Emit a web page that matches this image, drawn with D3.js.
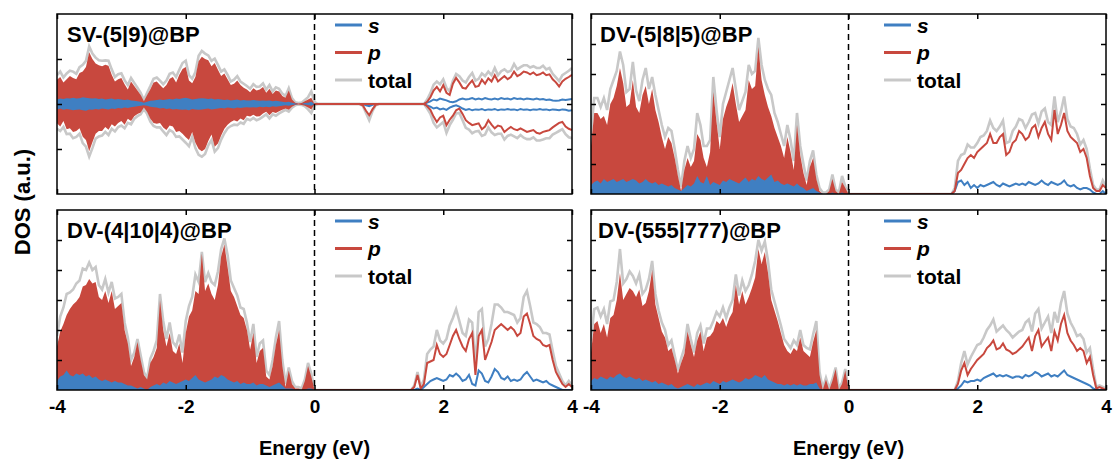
<!DOCTYPE html>
<html>
<head>
<meta charset="utf-8">
<script src="https://cdn.jsdelivr.net/npm/d3@7"></script>
<style>
  body { margin: 0; background: #fff; }
  svg text { font-family: "Liberation Sans", Arial, sans-serif; font-weight: bold; fill: #000; }
</style>
</head>
<body>
<svg id="drawing_region"></svg>
<script>
const energy = d3.range(161).map(i => +(-4 + i * 0.05).toFixed(2));

const xTickValues = [-4, -2, 0, 2, 4];
const panelTitles = ['SV-(5|9)@BP', 'DV-(5|8|5)@BP', 'DV-(4|10|4)@BP', 'DV-(555|777)@BP'];
const legendLabels = ['s', 'p', 'total'];

// SV-(5|9)@BP, spin up (positive) and spin down (negative)
const sv59_s_up = [
  0.1,0.12,0.11,0.13,0.12,0.14,0.12,0.13,0.15,0.14,0.13,0.12,0.13,0.11,0.12,0.1,0.11,0.12,0.1,0.11,
  0.1,0.09,0.1,0.08,0.07,0.06,0.05,0.03,0.05,0.07,0.08,0.09,0.1,0.09,0.1,0.11,0.1,0.12,0.11,0.13,
  0.14,0.12,0.1,0.11,0.12,0.13,0.12,0.11,0.12,0.1,0.11,0.1,0.09,0.1,0.08,0.09,0.1,0.08,0.09,0.08,
  0.08,0.09,0.08,0.07,0.08,0.07,0.08,0.06,0.07,0.06,0.05,0.04,0.05,0.03,0.01,0,0,0.02,0.03,0.05,
  0,0,0,0,0,0,0,0,0,0,0,0,0,0,0,0,0,0,0,0,
  0,0,0,0,0,0,0,0,0,0,0,0,0,0,0,0.03,0.06,0.1,0.08,0.12,
  0.1,0.08,0.05,0.04,0.06,0.1,0.12,0.1,0.11,0.13,0.1,0.12,0.1,0.13,0.11,0.1,0.12,0.1,0.13,0.11,
  0.12,0.1,0.13,0.11,0.12,0.1,0.12,0.11,0.1,0.12,0.1,0.11,0.09,0.1,0.08,0.07,0.08,0.1,0.09,0.1,
  0.11
];
const sv59_p_up = [
  0.54,0.6,0.48,0.55,0.62,0.58,0.55,0.69,0.72,0.82,1.15,1.0,0.9,0.86,0.84,0.87,0.85,0.65,0.5,0.55,
  0.58,0.44,0.32,0.5,0.4,0.3,0.2,0.06,0.2,0.33,0.48,0.5,0.42,0.35,0.42,0.56,0.6,0.48,0.65,0.78,
  0.82,0.52,0.46,0.6,0.95,1.05,1.0,0.97,0.84,0.91,0.76,0.62,0.68,0.55,0.42,0.45,0.52,0.42,0.36,0.32,
  0.26,0.35,0.3,0.32,0.38,0.25,0.34,0.22,0.3,0.28,0.18,0.14,0.3,0.1,0.03,0.01,0.02,0.06,0.1,0.14,
  0,0,0,0,0,0,0,0,0,0,0,0,0,0,0,0,0,0,0,0,
  0,0,0,0,0,0,0,0,0,0,0,0,0,0,0,0.05,0.15,0.3,0.38,0.28,
  0.42,0.25,0.2,0.45,0.58,0.48,0.36,0.34,0.44,0.52,0.38,0.4,0.54,0.45,0.57,0.5,0.64,0.5,0.56,0.62,
  0.55,0.6,0.72,0.62,0.66,0.72,0.7,0.66,0.7,0.64,0.66,0.7,0.64,0.66,0.55,0.48,0.39,0.5,0.56,0.6,
  0.65
];
const sv59_tot_up = [
  0.64,0.72,0.59,0.68,0.74,0.72,0.67,0.82,0.87,0.96,1.28,1.12,1.03,0.97,0.96,0.97,0.96,0.77,0.6,0.66,
  0.68,0.53,0.42,0.58,0.47,0.36,0.25,0.09,0.25,0.4,0.56,0.59,0.52,0.44,0.52,0.67,0.7,0.6,0.76,0.91,
  0.96,0.64,0.56,0.71,1.07,1.18,1.12,1.08,0.96,1.01,0.87,0.72,0.77,0.65,0.5,0.54,0.62,0.5,0.45,0.4,
  0.34,0.44,0.38,0.39,0.46,0.32,0.42,0.28,0.37,0.34,0.23,0.18,0.35,0.13,0.04,0.02,0.03,0.09,0.15,0.28,
  0.05,0,0,0,0,0,0,0,0,0,0,0,0,0,0,0,0,0,0,0,
  0,0,0,0,0,0,0,0,0,0,0,0,0,0,0,0.1,0.24,0.43,0.5,0.44,
  0.55,0.36,0.28,0.52,0.67,0.62,0.52,0.48,0.6,0.69,0.52,0.56,0.68,0.62,0.72,0.64,0.8,0.64,0.73,0.77,
  0.71,0.74,0.89,0.77,0.82,0.86,0.86,0.81,0.84,0.8,0.8,0.85,0.77,0.8,0.67,0.59,0.51,0.64,0.69,0.74,
  0.8
];
const sv59_s_dn = [
  -0.12,-0.1,-0.13,-0.11,-0.12,-0.14,-0.13,-0.12,-0.14,-0.15,-0.12,-0.13,-0.11,-0.12,-0.1,-0.11,-0.12,-0.1,-0.11,-0.09,
  -0.1,-0.08,-0.09,-0.07,-0.06,-0.05,-0.04,-0.03,-0.04,-0.06,-0.07,-0.08,-0.1,-0.09,-0.11,-0.1,-0.12,-0.11,-0.12,-0.13,
  -0.12,-0.14,-0.11,-0.12,-0.13,-0.12,-0.11,-0.1,-0.12,-0.11,-0.1,-0.09,-0.1,-0.08,-0.09,-0.1,-0.08,-0.09,-0.08,-0.07,
  -0.08,-0.07,-0.08,-0.06,-0.07,-0.06,-0.07,-0.05,-0.06,-0.05,-0.04,-0.03,-0.04,-0.02,-0.01,0,0,-0.01,-0.02,-0.04,
  0,0,0,0,0,0,0,0,0,0,0,0,0,0,0,0,-0.03,-0.05,-0.02,0,
  0,0,0,0,0,0,0,0,0,0,0,0,0,0,0,-0.03,-0.06,-0.1,-0.08,-0.12,
  -0.1,-0.13,-0.08,-0.05,-0.03,-0.06,-0.1,-0.13,-0.11,-0.14,-0.12,-0.13,-0.11,-0.14,-0.12,-0.13,-0.11,-0.14,-0.12,-0.13,
  -0.11,-0.13,-0.12,-0.14,-0.11,-0.13,-0.12,-0.14,-0.12,-0.13,-0.11,-0.13,-0.12,-0.14,-0.12,-0.13,-0.14,-0.12,-0.13,-0.15,
  -0.14
];
const sv59_p_dn = [
  -0.43,-0.5,-0.38,-0.56,-0.54,-0.62,-0.6,-0.54,-0.73,-0.8,-1.05,-0.85,-0.66,-0.6,-0.6,-0.51,-0.57,-0.45,-0.5,-0.42,
  -0.38,-0.46,-0.33,-0.38,-0.27,-0.22,-0.19,-0.08,-0.18,-0.33,-0.42,-0.44,-0.42,-0.52,-0.58,-0.48,-0.5,-0.62,-0.6,-0.66,
  -0.74,-0.8,-0.62,-0.86,-1.0,-1.05,-1.0,-0.82,-0.68,-0.95,-0.88,-0.7,-0.55,-0.46,-0.4,-0.36,-0.39,-0.32,-0.36,-0.26,
  -0.28,-0.24,-0.28,-0.27,-0.21,-0.17,-0.25,-0.18,-0.2,-0.16,-0.13,-0.1,-0.13,-0.06,-0.02,-0.01,-0.02,-0.04,-0.08,-0.12,
  0,0,0,0,0,0,0,0,0,0,0,0,0,0,0,-0.03,-0.15,-0.25,-0.12,-0.02,
  0,0,0,0,0,0,0,0,0,0,0,0,0,0,0,-0.05,-0.13,-0.28,-0.4,-0.3,
  -0.26,-0.47,-0.35,-0.26,-0.14,-0.1,-0.22,-0.36,-0.42,-0.47,-0.45,-0.43,-0.56,-0.5,-0.36,-0.46,-0.54,-0.48,-0.5,-0.62,
  -0.56,-0.51,-0.56,-0.58,-0.54,-0.58,-0.62,-0.6,-0.58,-0.64,-0.66,-0.62,-0.6,-0.58,-0.52,-0.47,-0.42,-0.4,-0.5,-0.55,
  -0.58
];
const sv59_tot_dn = [
  -0.55,-0.6,-0.51,-0.67,-0.66,-0.76,-0.73,-0.66,-0.87,-0.95,-1.17,-0.98,-0.77,-0.72,-0.7,-0.62,-0.69,-0.55,-0.61,-0.51,
  -0.48,-0.54,-0.42,-0.45,-0.33,-0.27,-0.23,-0.11,-0.22,-0.39,-0.49,-0.52,-0.52,-0.61,-0.69,-0.58,-0.62,-0.73,-0.72,-0.79,
  -0.86,-0.94,-0.73,-0.98,-1.13,-1.17,-1.11,-0.92,-0.8,-1.06,-0.98,-0.79,-0.65,-0.54,-0.49,-0.46,-0.47,-0.41,-0.44,-0.33,
  -0.36,-0.31,-0.36,-0.33,-0.28,-0.23,-0.32,-0.23,-0.26,-0.21,-0.17,-0.13,-0.17,-0.08,-0.03,-0.01,-0.02,-0.05,-0.12,-0.2,
  -0.03,0,0,0,0,0,0,0,0,0,0,0,0,0,0,-0.04,-0.2,-0.36,-0.16,-0.03,
  0,0,0,0,0,0,0,0,0,0,0,0,0,0,0,-0.1,-0.22,-0.42,-0.52,-0.46,
  -0.4,-0.64,-0.47,-0.35,-0.21,-0.2,-0.36,-0.53,-0.57,-0.65,-0.61,-0.6,-0.71,-0.68,-0.52,-0.63,-0.69,-0.66,-0.66,-0.79,
  -0.71,-0.68,-0.72,-0.76,-0.69,-0.75,-0.78,-0.78,-0.74,-0.81,-0.81,-0.79,-0.76,-0.76,-0.68,-0.64,-0.6,-0.56,-0.67,-0.74,
  -0.76
];

// DV-(5|8|5)@BP
const dv585_s = [
  0.3,0.4,0.45,0.35,0.5,0.4,0.45,0.5,0.4,0.45,0.5,0.4,0.45,0.5,0.45,0.35,0.4,0.5,0.4,0.35,
  0.4,0.3,0.35,0.3,0.25,0.3,0.2,0.15,0.1,0.2,0.3,0.25,0.35,0.6,0.4,0.35,0.6,0.3,0.4,0.35,
  0.3,0.45,0.4,0.5,0.45,0.4,0.35,0.45,0.55,0.4,0.5,0.45,0.6,0.5,0.45,0.55,0.65,0.4,0.45,0.35,
  0.3,0.35,0.3,0.25,0.35,0.25,0.2,0.1,0.15,0.2,0.1,0.05,0,0,0,0.05,0,0,0.05,0,
  0,0,0,0,0,0,0,0,0,0,0,0,0,0,0,0,0,0,0,0,
  0,0,0,0,0,0,0,0,0,0,0,0,0,0.1,0.4,0.45,0.3,0.4,0.2,0.3,
  0.2,0.3,0.25,0.3,0.35,0.4,0.3,0.25,0.35,0.3,0.25,0.3,0.35,0.3,0.35,0.3,0.4,0.35,0.3,0.35,
  0.45,0.35,0.3,0.4,0.35,0.3,0.35,0.45,0.3,0.25,0.3,0.2,0.15,0.2,0.2,0.15,0.05,0,0,0.1,
  0
];
const dv585_p = [
  1.6,2.7,2.7,2.5,2.6,2.3,3.0,3.2,3.6,4.2,3.7,2.9,3.0,3.8,2.9,2.7,3.3,3.6,3.0,3.5,
  2.8,2.4,1.9,1.5,1.9,1.7,1.2,0.6,0.1,0.8,1.2,0.9,1.1,2.0,1.8,1.2,0.9,1.4,3.4,2.4,
  1.5,2.5,2.9,3.2,3.7,3.0,2.4,2.6,2.8,3.8,3.5,3.6,4.9,3.8,3.3,2.9,2.6,2.2,1.9,1.6,
  1.2,1.9,1.4,0.8,2.3,1.3,0.7,0.3,0.9,1.2,0.5,0.1,0,0,0.1,0.5,0.1,0,0.4,0.2,
  0,0,0,0,0,0,0,0,0,0,0,0,0,0,0,0,0,0,0,0,
  0,0,0,0,0,0,0,0,0,0,0,0,0,0.1,0.7,0.8,1.0,1.2,1.3,1.2,
  1.4,1.5,1.6,1.7,2.0,1.7,1.7,1.9,2.0,1.3,1.4,1.7,1.8,2.1,2.0,1.8,1.9,2.2,2.3,1.9,
  2.2,2.4,2.0,1.8,2.8,2.0,2.3,2.7,2.1,1.9,1.8,1.7,1.4,1.5,1.2,0.6,0.2,0.1,0.1,0.3,
  0.2
];
const dv585_tot = [
  2.0,3.2,3.2,2.9,3.2,2.8,3.5,3.8,4.1,4.75,4.3,3.4,3.5,4.4,3.45,3.1,3.8,4.2,3.5,3.9,
  3.3,2.8,2.3,1.9,2.2,2.1,1.5,0.8,0.25,1.1,1.6,1.2,1.5,2.7,2.3,1.6,1.6,1.8,3.9,2.8,
  1.9,3.0,3.4,3.8,4.2,3.5,2.8,3.1,3.4,4.3,4.0,4.1,5.2,4.3,3.8,3.5,3.3,2.7,2.4,2.0,
  1.6,2.3,1.8,1.1,2.7,1.6,1.0,0.45,1.1,1.45,0.65,0.2,0.05,0.05,0.15,0.65,0.15,0.05,0.6,0.25,
  0,0,0,0,0,0,0,0,0,0,0,0,0,0,0,0,0,0,0,0,
  0,0,0,0,0,0,0,0,0,0,0,0,0,0.2,1.1,1.3,1.35,1.65,1.55,1.55,
  1.7,1.9,1.95,2.1,2.45,2.2,2.1,2.25,2.45,1.7,1.75,2.1,2.25,2.5,2.45,2.2,2.4,2.65,2.7,2.35,
  2.75,2.85,2.4,2.3,3.25,2.4,2.75,3.25,2.5,2.25,2.2,2.0,1.65,1.8,1.5,0.85,0.3,0.15,0.15,0.45,
  0.25
];

// DV-(4|10|4)@BP
const dv4104_s = [
  0.3,0.45,0.5,0.65,0.5,0.45,0.55,0.5,0.55,0.45,0.5,0.4,0.45,0.35,0.3,0.35,0.3,0.25,0.3,0.25,
  0.25,0.2,0.15,0.15,0.1,0.05,0.1,0.05,0,0.1,0.15,0.2,0.15,0.25,0.2,0.3,0.25,0.2,0.25,0.3,
  0.35,0.3,0.4,0.5,0.35,0.3,0.25,0.3,0.35,0.45,0.4,0.5,0.45,0.35,0.3,0.25,0.3,0.2,0.25,0.2,
  0.2,0.25,0.15,0.2,0.2,0.15,0.1,0.15,0.2,0.25,0.15,0.05,0.05,0.05,0,0,0,0,0.05,0.05,
  0,0,0,0,0,0,0,0,0,0,0,0,0,0,0,0,0,0,0,0,
  0,0,0,0,0,0,0,0,0,0,0,0,0.05,0,0.1,0.2,0.3,0.35,0.4,0.35,
  0.3,0.35,0.5,0.45,0.55,0.45,0.3,0.35,0.5,0.2,0.15,0.65,0.55,0.3,0.25,0.45,0.7,0.6,0.4,0.35,
  0.45,0.3,0.35,0.3,0.35,0.5,0.6,0.45,0.3,0.35,0.3,0.25,0.3,0.2,0.15,0.1,0.05,0,0,0,
  0
];
const dv4104_p = [
  1.45,1.95,2.2,2.5,2.7,2.85,2.95,3.1,3.45,3.5,3.7,3.55,3.6,3.1,3.0,3.3,2.9,3.3,2.7,2.8,
  2.9,2.0,1.55,0.8,1.1,1.6,1.0,0.5,0.35,0.9,1.1,1.4,3.0,2.0,1.45,1.9,1.3,1.2,1.55,0.9,
  1.9,2.45,2.65,3.3,3.2,4.55,3.3,3.55,3.2,3.0,3.5,4.45,4.85,4.1,3.3,3.1,2.8,2.5,2.4,2.0,
  1.35,1.9,0.9,1.3,1.4,0.45,0.35,0.8,1.5,2.0,0.8,0.1,0.65,0.2,0.05,0.05,0,0.3,0.8,0.45,
  0,0,0,0,0,0,0,0,0,0,0,0,0,0,0,0,0,0,0,0,
  0,0,0,0,0,0,0,0,0,0,0,0.1,0.5,0.05,0.2,0.9,0.95,1.0,1.5,1.2,
  1.1,1.2,1.5,1.8,2.0,1.7,1.45,1.3,1.7,1.9,0.5,1.8,2.0,1.0,1.3,1.6,2.0,2.1,2.2,2.1,
  2.0,2.1,2.0,1.8,1.9,2.45,2.55,2.2,1.8,1.7,1.65,1.5,1.45,1.5,1.0,0.6,0.4,0.2,0.1,0.2,
  0.1
];
const dv4104_tot = [
  1.8,2.45,2.75,3.2,3.25,3.35,3.55,3.65,4.05,4.0,4.25,4.0,4.1,3.5,3.35,3.7,3.25,3.6,3.05,3.1,
  3.2,2.25,1.75,1.0,1.25,1.7,1.15,0.6,0.4,1.05,1.3,1.65,3.2,2.3,1.7,2.25,1.6,1.45,1.85,1.25,
  2.3,2.8,3.1,3.85,3.6,4.6,3.6,3.9,3.6,3.5,3.95,4.7,5.05,4.5,3.65,3.4,3.15,2.75,2.7,2.25,
  1.6,2.2,1.1,1.55,1.65,0.65,0.5,1.0,1.75,2.3,1.0,0.2,0.75,0.3,0.1,0.1,0.05,0.35,0.9,0.55,
  0,0,0,0,0,0,0,0,0,0,0,0,0,0,0,0,0,0,0,0,
  0,0,0,0,0,0,0,0,0,0,0,0.15,0.6,0.1,0.35,1.2,1.35,1.45,2.0,1.65,
  1.55,1.7,2.15,2.4,2.7,2.3,1.9,1.8,2.35,2.25,0.8,2.6,2.7,1.45,1.7,2.2,2.85,2.85,2.75,2.6,
  2.6,2.55,2.5,2.25,2.4,3.1,3.3,2.8,2.25,2.2,2.1,1.9,1.9,1.85,1.3,0.8,0.55,0.3,0.15,0.3,
  0.15
];

// DV-(555|777)@BP
const dv555777_s = [
  0.3,0.4,0.35,0.45,0.4,0.35,0.45,0.4,0.5,0.55,0.45,0.4,0.45,0.4,0.35,0.4,0.3,0.35,0.3,0.25,
  0.3,0.2,0.25,0.2,0.15,0.2,0.1,0.05,0.1,0.15,0.2,0.15,0.1,0.2,0.15,0.2,0.25,0.2,0.3,0.25,
  0.2,0.3,0.25,0.3,0.35,0.3,0.25,0.3,0.4,0.35,0.4,0.5,0.45,0.4,0.5,0.35,0.3,0.25,0.2,0.2,
  0.15,0.2,0.15,0.2,0.15,0.2,0.15,0.15,0.2,0.2,0.25,0.05,0,0,0,0,0,0,0,0,
  0,0,0,0,0,0,0,0,0,0,0,0,0,0,0,0,0,0,0,0,
  0,0,0,0,0,0,0,0,0,0,0,0,0,0,0.05,0.15,0.3,0.25,0.3,0.3,
  0.35,0.3,0.4,0.45,0.5,0.55,0.45,0.5,0.45,0.5,0.45,0.4,0.45,0.45,0.4,0.5,0.45,0.5,0.6,0.55,
  0.45,0.5,0.55,0.45,0.5,0.45,0.55,0.65,0.5,0.45,0.4,0.35,0.3,0.25,0.2,0.15,0.05,0,0,0,
  0
];
const dv555777_p = [
  1.25,2.2,2.3,1.9,2.2,1.75,2.4,2.5,3.0,3.9,3.0,3.2,3.4,3.3,3.1,3.35,2.8,2.9,3.3,4.0,
  2.85,2.4,1.95,1.75,1.3,1.4,1.0,0.55,0.9,1.2,1.95,1.5,1.1,1.65,1.95,1.3,1.75,1.8,1.95,2.3,
  2.2,2.4,2.1,2.4,2.6,3.5,2.85,3.3,2.85,3.1,3.4,3.75,4.7,4.2,4.6,3.9,3.0,2.65,2.3,1.9,
  1.5,1.3,1.2,1.4,1.3,1.75,1.3,1.2,1.1,1.6,2.0,0.5,0,0.35,0,0.3,0.7,0,0.2,0.65,
  0,0,0,0,0,0,0,0,0,0,0,0,0,0,0,0,0,0,0,0,
  0,0,0,0,0,0,0,0,0,0,0,0,0,0,0.2,0.65,0.9,0.5,0.7,0.85,
  1.0,1.1,1.2,1.4,1.5,1.65,1.35,1.4,1.55,1.35,1.3,1.2,1.25,1.35,1.45,1.6,1.75,1.3,1.8,2.0,
  1.45,1.6,1.75,1.3,1.95,1.65,2.2,2.5,1.9,1.65,1.5,1.3,1.4,1.3,0.9,1.1,0.5,0.05,0.1,0.05,
  0
];
const dv555777_tot = [
  1.65,2.7,2.75,2.45,2.7,2.2,2.95,3.0,3.6,4.7,3.55,3.7,3.95,3.8,3.55,3.85,3.2,3.35,3.7,4.3,
  3.2,2.65,2.25,2.0,1.5,1.65,1.15,0.65,1.05,1.4,2.2,1.7,1.25,1.9,2.15,1.55,2.05,2.05,2.3,2.6,
  2.45,2.75,2.4,2.75,3.0,3.85,3.15,3.65,3.3,3.5,3.85,4.3,5.0,4.65,4.95,4.3,3.35,2.95,2.55,2.15,
  1.7,1.55,1.4,1.65,1.5,2.0,1.5,1.4,1.35,1.85,2.3,0.6,0.05,0.4,0.05,0.35,0.75,0.05,0.25,0.7,
  0,0,0,0,0,0,0,0,0,0,0,0,0,0,0,0,0,0,0,0,
  0,0,0,0,0,0,0,0,0,0,0,0,0,0,0.3,0.9,1.3,0.85,1.1,1.3,
  1.5,1.55,1.75,2.0,2.15,2.35,1.95,2.05,2.15,2.0,1.9,1.75,1.85,1.95,2.0,2.25,2.35,1.95,2.55,2.7,
  2.05,2.25,2.45,1.9,2.6,2.25,2.9,3.3,2.55,2.25,2.05,1.8,1.85,1.7,1.25,1.4,0.7,0.1,0.15,0.1,
  0.05
];

const RED = '#c8483e', BLUE = '#3f7fc2', GREY = '#c8c8c8';

const svg = d3.select('#drawing_region')
    .attr('width', 1118)
    .attr('height', 463);

class DosPanel {

    constructor( config, data ) {
        this.config = config;
        this.data = data;
        this.init();
    }

    init(){
        let self = this;
        const c = self.config;

        self.chart = svg.append('g')
            .attr('transform', `translate(${c.left}, ${c.top})`);

        self.xscale = d3.scaleLinear()
            .domain([-4, 4])
            .range([0, c.width]);

        self.yscale = d3.scaleLinear()
            .domain(c.yDomain)
            .range([c.height, 0]);

        self.chart.append('clipPath')
            .attr('id', 'clip' + c.id)
            .append('rect')
            .attr('width', c.width)
            .attr('height', c.height);

        self.plot = self.chart.append('g')
            .attr('clip-path', `url(#clip${c.id})`);
    }

    render(){
        let self = this;
        const c = self.config, d = self.data;
        const x = self.xscale, y = self.yscale;

        const pts = arr => energy.map((e, i) => ({ e: e, v: arr[i] }));
        const line = d3.line().x(p => x(p.e)).y(p => y(p.v));
        const area = d3.area().x(p => x(p.e)).y0(p => y(p.lo)).y1(p => y(p.hi));
        const occupied = (up, dn) => energy.slice(0, 81)
            .map((e, i) => ({ e: e, hi: up[i], lo: dn ? dn[i] : 0 }));

        // total DOS
        d.total.forEach(arr => {
            self.plot.append('path')
                .attr('d', line(pts(arr)))
                .attr('fill', 'none')
                .attr('stroke', GREY)
                .attr('stroke-width', 2.6);
        });

        // occupied states are filled
        self.plot.append('path')
            .attr('d', area(occupied(d.p[0], d.p[1])))
            .attr('fill', RED);
        self.plot.append('path')
            .attr('d', area(occupied(d.s[0], d.s[1])))
            .attr('fill', BLUE);

        // empty states as lines
        [[d.s, BLUE], [d.p, RED]].forEach(([series, color]) => {
            series.forEach(arr => {
                self.plot.append('path')
                    .attr('d', line(pts(arr).slice(80)))
                    .attr('fill', 'none')
                    .attr('stroke', color)
                    .attr('stroke-width', 2);
            });
        });

        // Fermi level
        self.chart.append('line')
            .attr('x1', x(0)).attr('x2', x(0))
            .attr('y1', 0).attr('y2', c.height)
            .attr('stroke', '#000')
            .attr('stroke-width', 1.5)
            .attr('stroke-dasharray', '6,4');

        // axes with inward ticks
        const axes = [
            [d3.axisBottom(x).tickValues(xTickValues), `translate(0, ${c.height})`, c.xLabels],
            [d3.axisTop(x).tickValues(xTickValues), 'translate(0, 0)', false],
            [d3.axisLeft(y).tickValues(c.yTicks), 'translate(0, 0)', false],
            [d3.axisRight(y).tickValues(c.yTicks), `translate(${c.width}, 0)`, false]
        ];
        axes.forEach(([axis, tr, labels]) => {
            const g = self.chart.append('g')
                .attr('transform', tr)
                .call(axis.tickSize(-5).tickSizeOuter(0).tickPadding(10)
                    .tickFormat(labels ? (v => v) : ''));
            g.select('.domain').remove();
            g.selectAll('.tick line').attr('stroke', '#000').attr('stroke-width', 1.5);
            g.selectAll('.tick text')
                .attr('font-size', 19)
                .attr('font-family', '"Liberation Sans", Arial, sans-serif')
                .attr('font-weight', 'bold');
        });

        self.chart.append('rect')
            .attr('width', c.width)
            .attr('height', c.height)
            .attr('fill', 'none')
            .attr('stroke', '#000')
            .attr('stroke-width', 1.5);

        // title
        self.chart.append('text')
            .attr('x', c.titleX)
            .attr('y', 28)
            .attr('font-size', 22)
            .text(c.title);

        // legend
        const legend = self.chart.append('g')
            .attr('transform', `translate(${c.legendX}, 0)`);
        [BLUE, RED, GREY].forEach((color, i) => {
            const ly = 11 + i * 27.5;
            legend.append('line')
                .attr('x1', 0).attr('x2', 27)
                .attr('y1', ly).attr('y2', ly)
                .attr('stroke', color)
                .attr('stroke-width', 3);
            legend.append('text')
                .attr('x', 33)
                .attr('y', ly)
                .attr('dy', '0.36em')
                .attr('font-size', 21)
                .attr('font-style', i < 2 ? 'italic' : 'normal')
                .text(legendLabels[i]);
        });
    }
}

const cols = [57, 591];
const rows = [14, 210];

const panels = [
    { id: 0, title: panelTitles[0], left: cols[0], top: rows[0], titleX: 10, legendX: 278,
      yDomain: [-2, 2], yTicks: [-1, 0, 1], xLabels: false,
      data: { s: [sv59_s_up, sv59_s_dn], p: [sv59_p_up, sv59_p_dn], total: [sv59_tot_up, sv59_tot_dn] } },
    { id: 1, title: panelTitles[1], left: cols[1], top: rows[0], titleX: 9, legendX: 293,
      yDomain: [0, 6], yTicks: [1, 2, 3, 4, 5], xLabels: false,
      data: { s: [dv585_s], p: [dv585_p], total: [dv585_tot] } },
    { id: 2, title: panelTitles[2], left: cols[0], top: rows[1], titleX: 10, legendX: 278,
      yDomain: [0, 6], yTicks: [1, 2, 3, 4, 5], xLabels: true,
      data: { s: [dv4104_s], p: [dv4104_p], total: [dv4104_tot] } },
    { id: 3, title: panelTitles[3], left: cols[1], top: rows[1], titleX: 7, legendX: 293,
      yDomain: [0, 6], yTicks: [1, 2, 3, 4, 5], xLabels: true,
      data: { s: [dv555777_s], p: [dv555777_p], total: [dv555777_tot] } }
];

panels.forEach(p => {
    const chart = new DosPanel(Object.assign({ width: 515, height: 180 }, p), p.data);
    chart.render();
});

// shared axis titles
svg.append('text')
    .attr('transform', 'translate(30, 202) rotate(-90)')
    .attr('text-anchor', 'middle')
    .attr('font-size', 22)
    .text('DOS (a.u.)');

cols.forEach(cx => {
    svg.append('text')
        .attr('x', cx + 257.5)
        .attr('y', 455)
        .attr('text-anchor', 'middle')
        .attr('font-size', 20)
        .text('Energy (eV)');
});
</script>
</body>
</html>
